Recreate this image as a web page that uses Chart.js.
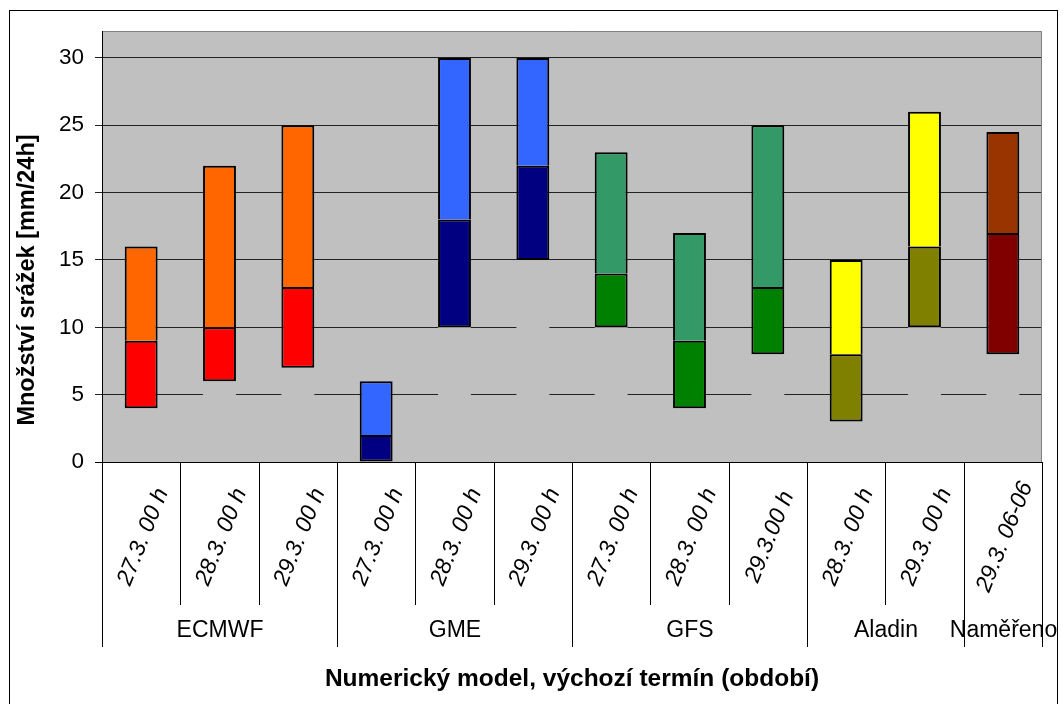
<!DOCTYPE html>
<html lang="cs">
<head>
<meta charset="utf-8">
<title>Množství srážek</title>
<script src="https://cdn.jsdelivr.net/npm/chart.js@4.4.1/dist/chart.umd.min.js"></script>
<style>
  html, body { margin: 0; padding: 0; background: #fff; }
  #wrap { position: relative; width: 1063px; height: 704px; overflow: hidden; }
  #frame { position: absolute; left: 9px; top: 10px; width: 1049px; height: 720px;
           box-sizing: border-box; border: 1px solid #000; pointer-events: none; }
</style>
</head>
<body>
<div id="wrap">
  <canvas id="chart" width="1063" height="704"></canvas>
  <div id="frame"></div>
</div>
<script>
// Lower row of the category axis: model run (start time)
const runLabels = ['27.3. 00 h', '28.3. 00 h', '29.3. 00 h',
                   '27.3. 00 h', '28.3. 00 h', '29.3. 00 h',
                   '27.3. 00 h', '28.3. 00 h', '29.3.00 h',
                   '28.3. 00 h', '29.3. 00 h',
                   '29.3. 06-06'];
// Upper row: numerical model, and how many runs it spans
const modelNames = ['ECMWF', 'GME', 'GFS', 'Aladin', 'Naměřeno'];
const modelSpans = [3, 3, 3, 2, 1];

// Precipitation range per run [mm/24h]
const minValues = [4, 6, 7, 0, 10, 15, 10, 4, 8, 3, 10, 8];
const midValues = [9, 10, 13, 2, 18, 22, 14, 9, 13, 8, 16, 17];
const maxValues = [16, 22, 25, 6, 30, 30, 23, 17, 25, 15, 26, 24.5];

const yTicks = [0, 5, 10, 15, 20, 25, 30];

// Colours per model (lower part / upper part)
const lowerColors = ['#FF0000', '#000080', '#008000', '#808000', '#800000'];
const upperColors = ['#FF6600', '#3366FF', '#339966', '#FFFF00', '#993300'];

const FONT = 'Arial, "Liberation Sans", sans-serif';
const PLOT_BG = '#C0C0C0';

// expand model colours to one entry per bar
function perBar(colors) {
    const out = [];
    modelSpans.forEach((n, i) => { for (let k = 0; k < n; k++) out.push(colors[i]); });
    return out;
}

/**
 * Plot background, frame and the two-level category axis
 */
const plotDecor = {
    id: 'plotDecor',
    beforeDraw(chart) {
        const { ctx, chartArea: a } = chart;
        ctx.save();
        ctx.fillStyle = PLOT_BG;
        ctx.fillRect(a.left, a.top, a.right - a.left, a.bottom - a.top);
        ctx.restore();
    },
    afterDatasetsDraw(chart) {
        const { ctx, chartArea: a, scales: { x } } = chart;
        const step = x.getPixelForValue(1) - x.getPixelForValue(0);
        const edge = i => Math.round(x.getPixelForValue(i) - step / 2) + 0.5;
        const runBottom = a.bottom + 143;
        const groupBottom = a.bottom + 185;

        ctx.save();
        ctx.lineWidth = 1;

        // plot area border (top / right)
        ctx.strokeStyle = '#808080';
        ctx.beginPath();
        ctx.moveTo(a.left, a.top + 0.5);
        ctx.lineTo(a.right - 0.5, a.top + 0.5);
        ctx.lineTo(a.right - 0.5, a.bottom);
        ctx.stroke();

        // axes
        ctx.strokeStyle = '#000';
        ctx.beginPath();
        ctx.moveTo(a.left + 0.5, a.top);
        ctx.lineTo(a.left + 0.5, a.bottom + 1);
        ctx.moveTo(a.left - 7, Math.round(a.bottom) + 0.5);
        ctx.lineTo(a.right, Math.round(a.bottom) + 0.5);
        ctx.stroke();

        // separators
        const groupEdges = [0];
        modelSpans.reduce((acc, n) => { groupEdges.push(acc + n); return acc + n; }, 0);
        ctx.beginPath();
        for (let i = 0; i <= runLabels.length; i++) {
            const px = edge(i);
            ctx.moveTo(px, a.bottom);
            ctx.lineTo(px, groupEdges.includes(i) ? groupBottom : runBottom);
        }
        ctx.stroke();

        // run labels, rotated
        ctx.fillStyle = '#000';
        ctx.font = 'italic 23px ' + FONT;
        ctx.textAlign = 'center';
        ctx.textBaseline = 'middle';
        runLabels.forEach((label, i) => {
            ctx.save();
            ctx.translate(x.getPixelForValue(i) + 2, a.bottom + 75);
            ctx.rotate(-68 * Math.PI / 180);
            ctx.fillText(label, 0, 0);
            ctx.restore();
        });

        // model labels
        ctx.font = '23px ' + FONT;
        modelNames.forEach((name, g) => {
            const cx = (edge(groupEdges[g]) + edge(groupEdges[g + 1])) / 2;
            ctx.fillText(name, cx, a.bottom + 169);
        });

        // y axis title
        ctx.font = 'bold 23.5px ' + FONT;
        ctx.save();
        ctx.translate(28, 280);
        ctx.rotate(-Math.PI / 2);
        ctx.fillText('Množství srážek [mm/24h]', 0, 0);
        ctx.restore();

        ctx.restore();
    }
};

const ctx = document.getElementById('chart').getContext('2d');

new Chart(ctx, {
    type: 'bar',
    data: {
        labels: runLabels,
        datasets: [
            {
                label: 'base',
                data: minValues.map(v => [0, v]),
                backgroundColor: PLOT_BG,
                borderWidth: 0,
                order: 3
            },
            {
                label: 'dolní',
                data: minValues.map((v, i) => [v, midValues[i]]),
                backgroundColor: perBar(lowerColors),
                borderColor: '#000',
                borderWidth: 2,
                borderSkipped: false,
                order: 2
            },
            {
                label: 'horní',
                data: midValues.map((v, i) => [v, maxValues[i]]),
                backgroundColor: perBar(upperColors),
                borderColor: '#000',
                borderWidth: 2,
                borderSkipped: 'start',
                order: 1
            }
        ]
    },
    options: {
        responsive: false,
        animation: false,
        layout: { padding: { left: 10, right: 21, top: 31, bottom: 0 } },
        datasets: {
            bar: { grouped: false, barPercentage: 0.42, categoryPercentage: 1 }
        },
        plugins: {
            legend: { display: false },
            tooltip: { enabled: false }
        },
        scales: {
            x: {
                ticks: { display: false },
                grid: { display: false },
                border: { display: false },
                afterFit: scale => { scale.height = 242; },
                title: {
                    display: true,
                    text: 'Numerický model, výchozí termín (období)',
                    color: '#000',
                    font: { family: FONT, size: 24.5, weight: 'bold' },
                    padding: { top: 0, bottom: 10 }
                }
            },
            y: {
                min: 0,
                max: 32,
                ticks: {
                    stepSize: 5,
                    color: '#000',
                    padding: 11,
                    font: { family: FONT, size: 22.5 }
                },
                afterBuildTicks: axis => {
                    axis.ticks = yTicks.map(v => ({ value: v }));
                },
                afterFit: scale => { scale.width = 92; },
                grid: { color: '#222', lineWidth: 1, tickLength: 7, drawTicks: true },
                border: { display: false }
            }
        }
    },
    plugins: [plotDecor]
});
</script>
</body>
</html>
